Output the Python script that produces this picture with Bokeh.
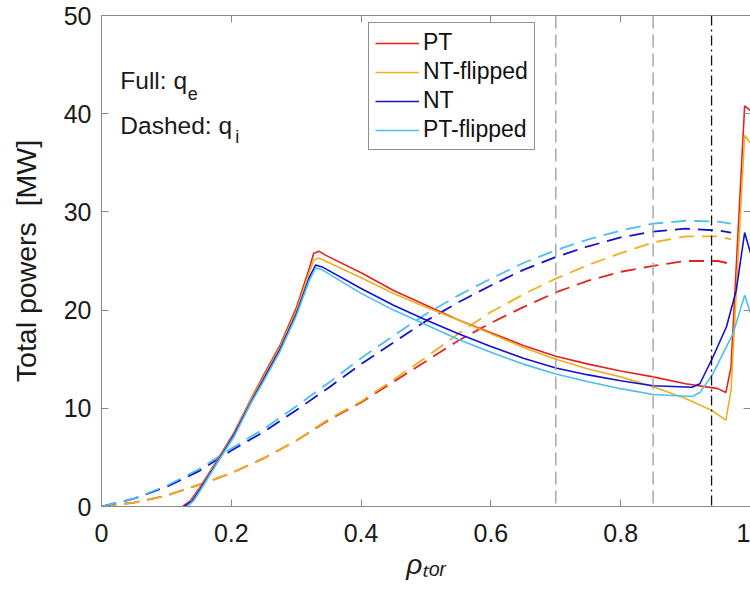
from bokeh.plotting import figure
from bokeh.models import (Range1d, LinearAxis, FixedTicker, CustomJSTickFormatter,
                          Span, Label, Legend, LegendItem)
from bokeh.embed import file_html
from bokeh.resources import INLINE

FONT = "Liberation Sans"

# ---------------- data ----------------
# solid: electron heat flux q_e
x_pt_e = [0.125, 0.137, 0.152, 0.178, 0.204, 0.23, 0.25, 0.275, 0.30, 0.32, 0.327, 0.335, 0.345,
          0.40, 0.45, 0.50, 0.55, 0.60, 0.65, 0.70, 0.75, 0.80, 0.85, 0.90, 0.95, 0.962, 0.970, 0.991, 1.0]
y_pt_e = [0, 0.6, 2.0, 4.7, 7.5, 10.9, 13.4, 16.4, 20.2, 24.2, 25.8, 26.0, 25.6,
          23.8, 22.0, 20.5, 19.0, 17.7, 16.4, 15.3, 14.5, 13.8, 13.2, 12.5, 12.0, 11.6, 14.2, 40.8, 40.3]

x_ntf_e = [0.127, 0.14, 0.152, 0.178, 0.204, 0.23, 0.25, 0.275, 0.30, 0.32, 0.327, 0.335, 0.345,
           0.40, 0.45, 0.50, 0.55, 0.60, 0.65, 0.70, 0.75, 0.80, 0.85, 0.90, 0.94, 0.962, 0.970, 0.991, 1.0]
y_ntf_e = [0, 0.7, 1.9, 4.6, 7.4, 10.8, 13.2, 16.2, 19.9, 23.8, 25.1, 25.3, 25.0,
           23.3, 21.7, 20.3, 19.0, 17.6, 16.2, 15.0, 14.0, 13.2, 12.2, 11.0, 9.8, 8.8, 11.8, 37.8, 37.0]

x_nt_e = [0.127, 0.14, 0.152, 0.178, 0.204, 0.23, 0.25, 0.275, 0.30, 0.32, 0.33, 0.34,
          0.40, 0.45, 0.50, 0.55, 0.60, 0.65, 0.70, 0.75, 0.80, 0.85, 0.91, 0.922, 0.942, 0.963, 0.978, 0.991, 1.0]
y_nt_e = [0, 0.6, 1.8, 4.5, 7.3, 10.6, 13.0, 16.0, 19.6, 23.3, 24.6, 24.4,
          22.2, 20.5, 19.0, 17.6, 16.3, 15.1, 14.1, 13.4, 12.8, 12.3, 12.15, 12.5, 15.2, 18.3, 22.0, 27.9, 25.8]

x_ptf_e = [0.132, 0.142, 0.152, 0.178, 0.204, 0.23, 0.25, 0.275, 0.30, 0.32, 0.33, 0.34,
           0.40, 0.45, 0.50, 0.55, 0.60, 0.65, 0.70, 0.75, 0.80, 0.85, 0.91, 0.922, 0.942, 0.973, 0.991, 1.0]
y_ptf_e = [0, 0.6, 1.6, 4.4, 7.1, 10.5, 12.8, 15.8, 19.4, 23.0, 24.3, 24.1,
           21.7, 20.0, 18.5, 17.0, 15.7, 14.5, 13.5, 12.7, 12.0, 11.4, 11.2, 11.6, 13.5, 17.6, 21.5, 19.7]

# dashed: ion heat flux q_i
x_i = [0, 0.05, 0.10, 0.15, 0.20, 0.25, 0.30, 0.35, 0.40, 0.45, 0.50, 0.55, 0.60,
       0.65, 0.70, 0.75, 0.80, 0.85, 0.90, 0.95, 0.97]
y_pt_i = [0, 0.4, 1.1, 2.2, 3.4, 4.9, 6.7, 8.8, 10.6, 12.7, 14.8, 16.9, 18.7,
          20.3, 21.8, 23.0, 23.9, 24.5, 25.0, 25.0, 24.7]
y_ntf_i = [0, 0.4, 1.1, 2.2, 3.4, 4.9, 6.7, 8.9, 10.7, 12.9, 15.2, 17.6, 19.8,
           21.6, 23.2, 24.6, 25.8, 26.9, 27.5, 27.5, 27.2]
y_nt_i = [0, 0.8, 2.0, 3.6, 5.7, 7.6, 9.8, 12.1, 14.5, 16.7, 18.9, 20.8, 22.5,
          24.1, 25.4, 26.5, 27.4, 28.0, 28.3, 28.1, 27.9]
y_ptf_i = [0, 0.8, 2.1, 3.8, 5.9, 7.9, 10.2, 12.6, 15.1, 17.4, 19.6, 21.5, 23.2,
           24.8, 26.1, 27.2, 28.1, 28.8, 29.1, 29.0, 28.8]

names = ["PT", "NT-flipped", "NT", "PT-flipped"]
colors = ["#E52222", "#EDB120", "#1212D2", "#4DBEEE"]

grey_lines = [0.70, 0.85]
sep_line = 0.94

x_ticks = [0, 0.2, 0.4, 0.6, 0.8, 1.0]
y_ticks = [0, 10, 20, 30, 40, 50]

# ---------------- figure ----------------
p = figure(width=750, height=597, output_backend="svg", toolbar_location=None,
           x_range=Range1d(0, 1), y_range=Range1d(0, 50),
           min_border_left=101, min_border_right=0, min_border_top=15, min_border_bottom=91)
p.xgrid.visible = False
p.ygrid.visible = False
p.outline_line_color = None
p.background_fill_color = "white"
p.border_fill_color = "white"

AX = "#8a8a8a"
TXT = "#1a1a1a"


def style(ax, show_labels=True):
    ax.axis_line_color = AX
    ax.axis_line_width = 1
    ax.major_tick_line_color = AX
    ax.major_tick_in = 7
    ax.major_tick_out = 0
    ax.minor_tick_line_color = None
    ax.major_label_text_font = FONT
    if show_labels:
        ax.major_label_text_font_size = "25px"
        ax.major_label_text_color = TXT
    else:
        ax.major_label_text_font_size = "1px"
        ax.major_label_text_color = None
        ax.major_label_standoff = 0


fmt = CustomJSTickFormatter(code="return Number(tick.toFixed(1)).toString();")

p.xaxis.ticker = FixedTicker(ticks=x_ticks)
p.xaxis.formatter = fmt
p.yaxis.ticker = FixedTicker(ticks=y_ticks)
style(p.xaxis[0])
style(p.yaxis[0])
p.xaxis.major_label_standoff = 17
p.yaxis.major_label_standoff = 10

p.xaxis.axis_label = "ρₜₒᵣ"
p.xaxis.axis_label_text_font = FONT
p.xaxis.axis_label_text_font_size = "28px"
p.xaxis.axis_label_text_font_style = "italic"
p.xaxis.axis_label_text_color = TXT
p.xaxis.axis_label_standoff = 4

p.yaxis.axis_label = "Total powers\u00a0 [MW]"
p.yaxis.axis_label_text_font = FONT
p.yaxis.axis_label_text_font_size = "28.5px"
p.yaxis.axis_label_text_font_style = "normal"
p.yaxis.axis_label_text_color = TXT
p.yaxis.axis_label_standoff = 19

top_ax = LinearAxis(ticker=FixedTicker(ticks=x_ticks))
style(top_ax, False)
p.add_layout(top_ax, "above")
right_ax = LinearAxis(ticker=FixedTicker(ticks=y_ticks))
style(right_ax, False)
right_ax.axis_line_color = None
p.add_layout(right_ax, "right")

# reference vertical lines
for xv in grey_lines:
    p.add_layout(Span(location=xv, dimension="height", line_color="#a8a8a8",
                      line_width=1.5, line_dash="13 6"))
p.add_layout(Span(location=sep_line, dimension="height", line_color="#111111",
                  line_width=1.3, line_dash="10 4 2 4"))

# curves
solid_x = [x_pt_e, x_ntf_e, x_nt_e, x_ptf_e]
solid_y = [y_pt_e, y_ntf_e, y_nt_e, y_ptf_e]
dash_y = [y_pt_i, y_ntf_i, y_nt_i, y_ptf_i]

for yd, c in zip(dash_y, colors):
    p.line(x_i, yd, line_color=c, line_width=1.8, line_dash="15 8")

items = []
for xs, ys, c, n in zip(solid_x, solid_y, colors, names):
    r = p.line(xs, ys, line_color=c, line_width=1.6)
    items.append(LegendItem(label=n, renderers=[r]))

legend = Legend(items=items, location=(267, 356))
legend.label_text_font = FONT
legend.label_text_font_size = "23px"
legend.label_text_color = "#111111"
legend.glyph_width = 44
legend.glyph_height = 26
legend.label_standoff = 4
legend.label_height = 26
legend.spacing = 2
legend.padding = 6
legend.margin = 0
legend.border_line_color = "#262626"
legend.border_line_width = 1
legend.background_fill_alpha = 1.0
p.add_layout(legend)

# annotation texts
p.add_layout(Label(x=0.029, y=43.4, text="Full: q", text_font=FONT, text_font_size="24.5px",
                   text_baseline="alphabetic", text_color=TXT))
p.add_layout(Label(x=0.133, y=42.1, text="e", text_font=FONT, text_font_size="18px",
                   text_baseline="alphabetic", text_color=TXT))
p.add_layout(Label(x=0.029, y=38.8, text="Dashed: q", text_font=FONT, text_font_size="24.5px",
                   text_baseline="alphabetic", text_color=TXT))
p.add_layout(Label(x=0.2062, y=37.6, text="i", text_font=FONT, text_font_size="18px",
                   text_baseline="alphabetic", text_color=TXT))

open("out.html", "w").write(file_html(p, INLINE))
